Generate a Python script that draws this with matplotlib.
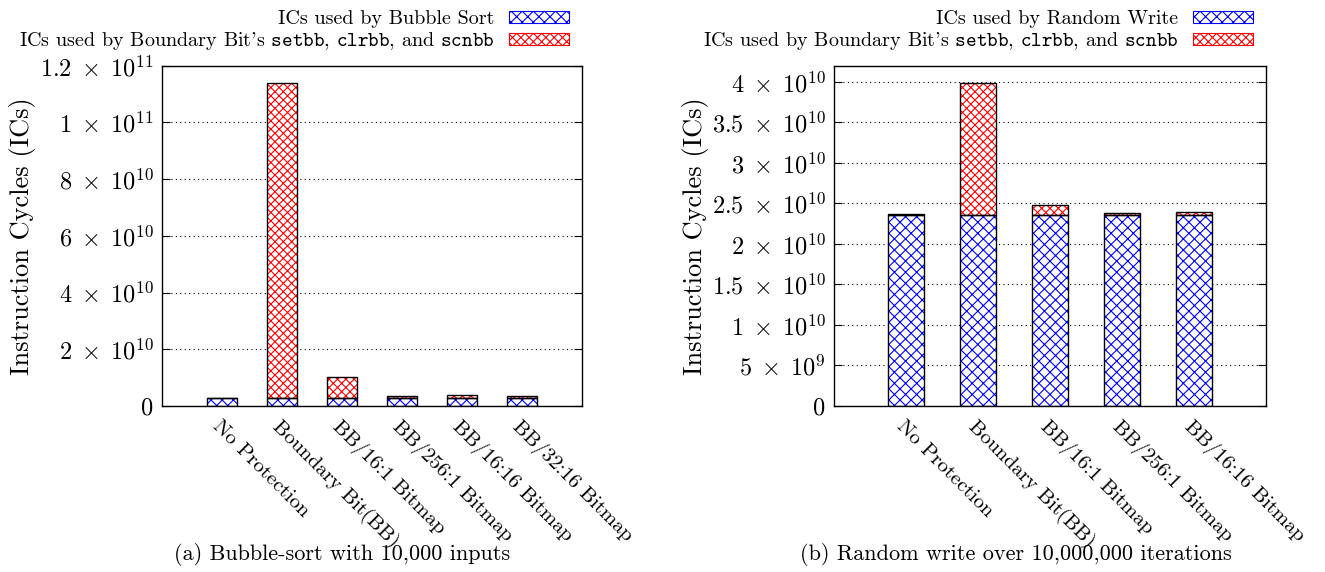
import matplotlib
matplotlib.use("Agg")
import matplotlib.pyplot as plt
from matplotlib.patches import Patch
import numpy as np

plt.rcParams['font.family'] = ['cmr10', 'DejaVu Serif']
plt.rcParams['mathtext.fontset'] = 'cm'
plt.rcParams['axes.formatter.use_mathtext'] = True
plt.rcParams['hatch.linewidth'] = 0.8
plt.rcParams['axes.unicode_minus'] = False

# (a) bubble sort
labels_a = ["No Protection", "Boundary Bit(BB)", "BB/16:1 Bitmap",
            "BB/256:1 Bitmap", "BB/16:16 Bitmap", "BB/32:16 Bitmap"]
bubble_ics = [2.8e9, 2.8e9, 2.8e9, 2.8e9, 2.8e9, 2.8e9]
bb_ics_a = [0.15e9, 1.1105e11, 7.3e9, 0.6e9, 1.1e9, 0.6e9]
yticks_a = [0, 2e10, 4e10, 6e10, 8e10, 1e11, 1.2e11]
yticklabels_a = ["0", r"$2\;\times\;10^{10}$", r"$4\;\times\;10^{10}$", r"$6\;\times\;10^{10}$",
                 r"$8\;\times\;10^{10}$", r"$1\;\times\;10^{11}$", r"$1.2\;\times\;10^{11}$"]

# (b) random write
labels_b = ["No Protection", "Boundary Bit(BB)", "BB/16:1 Bitmap",
            "BB/256:1 Bitmap", "BB/16:16 Bitmap"]
rw_ics = [2.36e10, 2.36e10, 2.36e10, 2.36e10, 2.36e10]
bb_ics_b = [0.1e9, 1.63e10, 1.2e9, 0.25e9, 0.35e9]
yticks_b = [0, 5e9, 1e10, 1.5e10, 2e10, 2.5e10, 3e10, 3.5e10, 4e10]
yticklabels_b = ["0", r"$5\;\times\;10^{9}$", r"$1\;\times\;10^{10}$", r"$1.5\;\times\;10^{10}$",
                 r"$2\;\times\;10^{10}$", r"$2.5\;\times\;10^{10}$", r"$3\;\times\;10^{10}$",
                 r"$3.5\;\times\;10^{10}$", r"$4\;\times\;10^{10}$"]

blue_hatch = 'xxx'
red_hatch = 'xxxx'


def hatched_bars(ax, x, h, bottom, color, hatch):
    # hatch in colour, then black outline on top
    ax.bar(x, h, 0.5, bottom=bottom, color='white', edgecolor=color, hatch=hatch, linewidth=0, zorder=2)
    ax.bar(x, h, 0.5, bottom=bottom, fill=False, edgecolor='black', linewidth=1.0, zorder=3)


def draw(ax, labels, base, extra, yticks, yticklabels, ymax, base_name, leg_x):
    x = np.arange(1, len(labels) + 1)
    hatched_bars(ax, x, base, 0, 'blue', blue_hatch)
    hatched_bars(ax, x, extra, base, 'red', red_hatch)
    ax.set_xlim(0, len(labels) + 1)
    ax.set_ylim(0, ymax)
    ax.set_yticks(yticks)
    ax.set_yticklabels(yticklabels, fontsize=17.5)
    ax.set_xticks(x)
    ax.set_xticklabels(labels, rotation=-45, ha='left', va='top', rotation_mode='anchor', fontsize=15)
    ax.tick_params(axis='x', length=0, pad=8)
    ax.tick_params(axis='y', direction='in', right=True, length=6, pad=6)
    ax.grid(axis='y', linestyle=(0, (1, 3)), color='black', linewidth=0.8, zorder=0)
    ax.set_axisbelow(True)
    ax.set_ylabel("Instruction Cycles (ICs)", fontsize=19)
    for s in ax.spines.values():
        s.set_linewidth(1.0)
    handles = [Patch(facecolor='white', edgecolor='blue', hatch=blue_hatch, linewidth=0.8),
               Patch(facecolor='white', edgecolor='red', hatch=red_hatch, linewidth=0.8)]
    names = [base_name,
             r"ICs used by Boundary Bit's $\mathtt{setbb}$, $\mathtt{clrbb}$, and $\mathtt{scnbb}$"]
    ax.legend(handles, names, loc='lower right', bbox_to_anchor=(leg_x, 1.04), frameon=False,
              markerfirst=False, fontsize=14.5, handlelength=3.0, handleheight=0.55,
              labelspacing=0.1, borderpad=0, handletextpad=0.7, borderaxespad=0)


fig = plt.figure(figsize=(13.25, 5.72), dpi=100)
ax1 = fig.add_axes([0.1223, 0.2902, 0.3170, 0.5949])
ax2 = fig.add_axes([0.6294, 0.2902, 0.3260, 0.5949])

draw(ax1, labels_a, bubble_ics, bb_ics_a, yticks_a, yticklabels_a, 1.2e11, "ICs used by Bubble Sort", 0.969)
draw(ax2, labels_b, rw_ics, bb_ics_b, yticks_b, yticklabels_b, 4.2e10, "ICs used by Random Write", 0.970)
ax1.yaxis.set_label_coords(-0.30, 0.5)
ax2.yaxis.set_label_coords(-0.29, 0.5)

fig.text(0.258, 0.030, "(a) Bubble-sort with 10,000 inputs", ha='center', va='center', fontsize=16)
fig.text(0.767, 0.030, "(b) Random write over 10,000,000 iterations", ha='center', va='center', fontsize=16)

fig.savefig("out.png", dpi=100)
